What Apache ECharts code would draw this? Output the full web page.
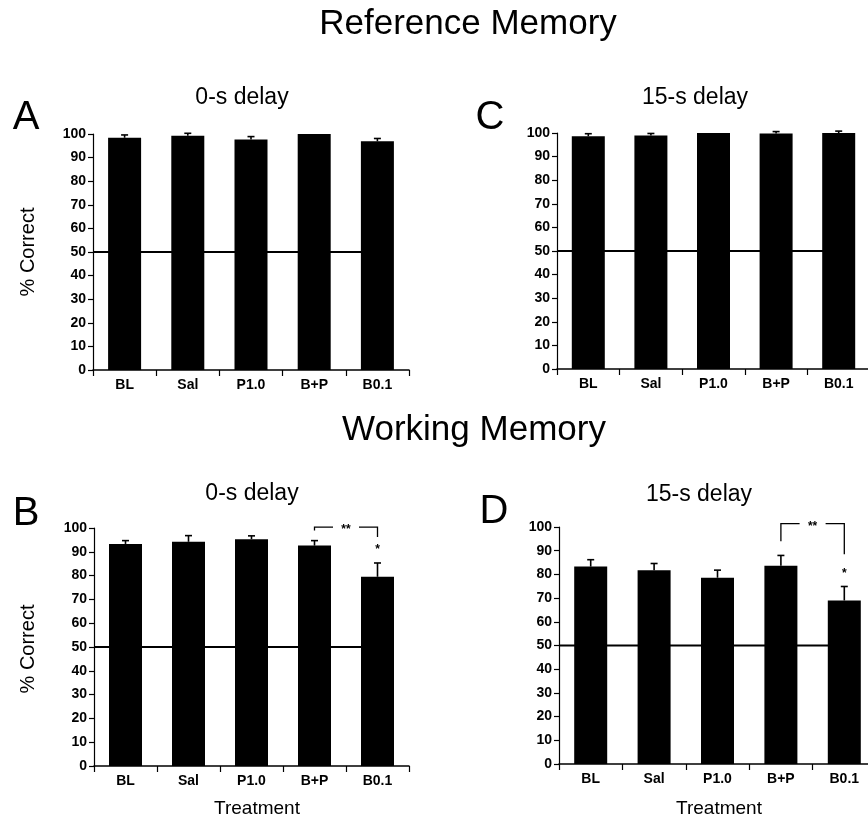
<!DOCTYPE html>
<html>
<head>
<meta charset="utf-8">
<script src="https://cdn.jsdelivr.net/npm/echarts@6/dist/echarts.min.js"></script>
<style>
html,body{margin:0;padding:0;background:#fff;}
#chart{width:868px;height:819px;}
</style>
</head>
<body>
<div id="chart"></div>
<script>
// ---------- data ----------
const categories = ['BL', 'Sal', 'P1.0', 'B+P', 'B0.1'];
const refMean0   = [98.4, 99.3, 97.7, 100.0, 96.9];
const refErr0    = [1.2, 1.0, 1.2, 0.0, 1.2];
const refMean15  = [98.6, 98.9, 100.0, 99.8, 100.0];
const refErr15   = [1.1, 0.9, 0.0, 0.8, 0.8];
const workMean0  = [93.3, 94.2, 95.3, 92.6, 79.5];
const workErr0   = [1.4, 2.6, 1.4, 2.1, 5.8];
const workMean15 = [83.3, 81.7, 78.6, 83.6, 69.0];
const workErr15  = [2.9, 2.9, 3.2, 4.4, 5.9];
const chanceLevel = 50;
const yMin = 0, yMax = 100, yStep = 10;
// significance brackets: [left category index, right category index, top level, left end, right end]
const bracketB = [3, 4, 100.4, 99.0, 96.2];
const bracketD = [3, 4, 101.4, 94.0, 88.5];
const bracketLabel = '**';
const starIndex = 4;
const starLabel = '*';
const panelTitles = ['0-s delay', '15-s delay', '0-s delay', '15-s delay'];
const panelLetters = ['A', 'C', 'B', 'D'];
const sectionTitles = ['Reference Memory', 'Working Memory'];
const yAxisTitle = '% Correct';
const xAxisTitle = 'Treatment';

// ---------- layout ----------
const FONT = '"Liberation Sans", Arial, Helvetica, sans-serif';
const grids = [
  {left: 93,  top: 134, width: 316, height: 236},
  {left: 557, top: 133, width: 313, height: 236},
  {left: 94,  top: 528, width: 315, height: 238},
  {left: 559, top: 527, width: 317, height: 237}
];
const panels = [
  {mean: refMean0,   err: refErr0,   bracket: null},
  {mean: refMean15,  err: refErr15,  bracket: null},
  {mean: workMean0,  err: workErr0,  bracket: bracketB},
  {mean: workMean15, err: workErr15, bracket: bracketD}
];

function errRender(params, api) {
  const i = api.value(0), m = api.value(1), e = api.value(2);
  if (!e) return {type: 'group', children: []};
  const p0 = api.coord([i, m]);
  const p1 = api.coord([i, m + e]);
  return {type: 'group', children: [
    {type: 'line', shape: {x1: p0[0], y1: p0[1], x2: p1[0], y2: p1[1]}, style: {stroke: '#000', lineWidth: 1.6}},
    {type: 'line', shape: {x1: p1[0] - 3.5, y1: p1[1], x2: p1[0] + 3.5, y2: p1[1]}, style: {stroke: '#000', lineWidth: 1.6}}
  ]};
}
function makeBracketRender(br, mean, err) {
  return function (params, api) {
    const a = br[0], b = br[1], top = br[2], dl = br[3], dr = br[4];
    const pl = api.coord([a, top]), pr = api.coord([b, top]);
    const pdl = api.coord([a, dl]), pdr = api.coord([b, dr]);
    const mid = (pl[0] + pr[0]) / 2, gap = 13;
    const st = {stroke: '#000', lineWidth: 1.3, fill: null};
    const ps = api.coord([starIndex, mean[starIndex] + err[starIndex]]);
    return {type: 'group', children: [
      {type: 'polyline', shape: {points: [[pl[0], pdl[1]], [pl[0], pl[1]], [mid - gap, pl[1]]]}, style: st},
      {type: 'polyline', shape: {points: [[mid + gap, pr[1]], [pr[0], pr[1]], [pr[0], pdr[1]]]}, style: st},
      {type: 'text', style: {text: bracketLabel, x: mid, y: pl[1] + 3, textAlign: 'center', textVerticalAlign: 'middle', font: 'bold 12px ' + FONT, fill: '#000'}},
      {type: 'text', style: {text: starLabel, x: ps[0], y: ps[1] - 13, textAlign: 'center', textVerticalAlign: 'middle', font: 'bold 12px ' + FONT, fill: '#000'}}
    ]};
  };
}

const option = {
  backgroundColor: '#fff',
  animation: false,
  textStyle: {fontFamily: FONT},
  grid: grids.map(g => Object.assign({containLabel: false, outerBoundsMode: 'none'}, g)),
  xAxis: [],
  yAxis: [],
  series: [],
  graphic: []
};

panels.forEach((p, g) => {
  option.xAxis.push({
    type: 'category', gridIndex: g, data: categories,
    axisLine: {onZero: false, lineStyle: {color: '#000', width: 1.5}},
    axisTick: {show: true, alignWithLabel: false, length: 6, lineStyle: {color: '#000', width: 1.2}},
    axisLabel: {color: '#000', fontSize: 14, fontWeight: 'bold', margin: 8, fontFamily: FONT, interval: 0},
    splitLine: {show: false}
  });
  option.yAxis.push({
    type: 'value', gridIndex: g, min: yMin, max: yMax, interval: yStep,
    axisLine: {show: true, onZero: false, lineStyle: {color: '#000', width: 1.2}},
    axisTick: {show: true, length: 5, lineStyle: {color: '#000', width: 1.2}},
    axisLabel: {color: '#000', fontSize: 14, fontWeight: 'bold', margin: 7, fontFamily: FONT},
    splitLine: {show: false}
  });
});
// hidden numeric x axes (category i sits at value i) for reference line and annotations
panels.forEach((p, g) => {
  option.xAxis.push({
    type: 'value', gridIndex: g, min: -0.5, max: categories.length - 0.5, show: false,
    axisLine: {show: false, onZero: false}, axisTick: {show: false}, axisLabel: {show: false}, splitLine: {show: false}
  });
});

panels.forEach((p, g) => {
  option.series.push({
    type: 'line', xAxisIndex: 4 + g, yAxisIndex: g, z: 1,
    data: [[-0.5, chanceLevel], [categories.length - 1, chanceLevel]],
    symbol: 'none', lineStyle: {color: '#000', width: 1.8}, silent: true
  });
  option.series.push({
    type: 'bar', xAxisIndex: g, yAxisIndex: g, z: 2,
    data: p.mean, barWidth: 33,
    itemStyle: {color: '#000'}
  });
  option.series.push({
    type: 'custom', xAxisIndex: 4 + g, yAxisIndex: g, z: 3, clip: false,
    renderItem: errRender,
    data: categories.map((c, i) => [i, p.mean[i], p.err[i]]),
    encode: {x: 0, y: 1}
  });
  if (p.bracket) {
    option.series.push({
      type: 'custom', xAxisIndex: 4 + g, yAxisIndex: g, z: 3, clip: false,
      renderItem: makeBracketRender(p.bracket, p.mean, p.err),
      data: [[p.bracket[0], p.bracket[2]]],
      encode: {x: 0, y: 1}
    });
  }
});

function txt(text, x, y, size, extra) {
  return Object.assign({
    type: 'text', x: x, y: y, silent: true,
    style: {text: text, font: size + 'px ' + FONT, fill: '#000', textAlign: 'center', textVerticalAlign: 'middle'}
  }, extra || {});
}
option.graphic = [
  txt(sectionTitles[0], 468, 24, 35),
  txt(sectionTitles[1], 474, 430, 35),
  txt(panelTitles[0], 242, 98, 23),
  txt(panelTitles[1], 695, 98, 23),
  txt(panelTitles[2], 252, 494, 23),
  txt(panelTitles[3], 699, 495, 23),
  txt(panelLetters[0], 26, 118, 40),
  txt(panelLetters[1], 490, 118, 40),
  txt(panelLetters[2], 26, 514, 40),
  txt(panelLetters[3], 494, 512, 40),
  txt(yAxisTitle, 28, 252, 20, {rotation: Math.PI / 2}),
  txt(yAxisTitle, 28, 649, 20, {rotation: Math.PI / 2}),
  txt(xAxisTitle, 257, 809, 19),
  txt(xAxisTitle, 719, 809, 19)
];

const chart = echarts.init(document.getElementById('chart'), null, {renderer: 'canvas'});
chart.setOption(option);
</script>
</body>
</html>
